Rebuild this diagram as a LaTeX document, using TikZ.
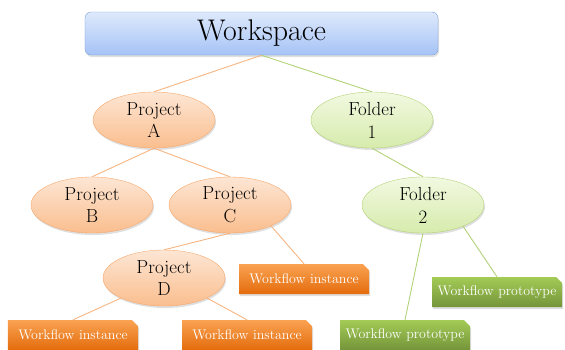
\documentclass[tikz,border=0pt]{standalone}
\usetikzlibrary{shapes.geometric, shapes.misc, shadows}
\definecolor{WsTop}{RGB}{222,233,252}
\definecolor{WsBottom}{RGB}{165,195,246}
\definecolor{WsLine}{RGB}{125,160,215}
\definecolor{ProjTop}{RGB}{253,230,212}
\definecolor{ProjBottom}{RGB}{250,190,142}
\definecolor{ProjLine}{RGB}{246,168,108}
\definecolor{FoldTop}{RGB}{242,249,225}
\definecolor{FoldBottom}{RGB}{214,235,172}
\definecolor{FoldLine}{RGB}{178,210,120}
\definecolor{InstTop}{RGB}{249,162,82}
\definecolor{InstBottom}{RGB}{228,108,12}
\definecolor{ProtoTop}{RGB}{163,203,86}
\definecolor{ProtoBottom}{RGB}{117,148,58}

\tikzset{
  softshadow/.style={drop shadow={opacity=0.25, shadow xshift=1bp, shadow yshift=-2bp}},
  wsbox/.style={rectangle, rounded corners=6bp, draw=WsLine, top color=WsTop, bottom color=WsBottom,
    minimum width=353bp, minimum height=43bp, inner sep=0pt, font=\fontsize{30}{32}\selectfont, softshadow},
  projnode/.style={ellipse, draw=ProjLine, top color=ProjTop, bottom color=ProjBottom,
    minimum width=122bp, minimum height=56bp, inner sep=0pt, align=center,
    font=\fontsize{19}{23}\selectfont, softshadow},
  foldnode/.style={projnode, draw=FoldLine, top color=FoldTop, bottom color=FoldBottom},
  instbox/.style={chamfered rectangle, chamfered rectangle corners=north east, chamfered rectangle xsep=3bp,
    chamfered rectangle ysep=3bp, top color=InstTop, bottom color=InstBottom, text=white,
    minimum width=130bp, minimum height=30bp, inner sep=0pt, font=\fontsize{14}{16}\selectfont, softshadow},
  protobox/.style={instbox, top color=ProtoTop, bottom color=ProtoBottom},
  projlink/.style={draw=ProjLine!85, line width=0.9bp},
  foldlink/.style={draw=FoldLine, line width=0.9bp}
}

\begin{document}
\begin{tikzpicture}[x=1bp, y=-1bp]
  \useasboundingbox (0,0) rectangle (565,349);

  % top level
  \node[wsbox] (ws) at (261.5,33.5) {Workspace};

  % projects
  \node[projnode] (pa) at (154,120) {Project\\A};
  \node[projnode] (pb) at (92,205) {Project\\B};
  \node[projnode] (pc) at (230,205) {Project\\C};
  \node[projnode] (pd) at (164,278) {Project\\D};

  % folders
  \node[foldnode] (fa) at (372,120) {Folder\\1};
  \node[foldnode] (fb) at (423,205) {Folder\\2};

  % workflows
  \node[instbox] (wic) at (304,279) {Workflow instance};
  \node[instbox] (wid) at (73,335) {Workflow instance};
  \node[instbox] (wie) at (247,335) {Workflow instance};
  \node[protobox] (wpa) at (497,292) {Workflow prototype};
  \node[protobox] (wpb) at (405,335) {Workflow prototype};

  % links
  \draw[projlink] (ws.south) -- (pa.north);
  \draw[foldlink] (ws.south) -- (fa.north);
  \draw[projlink] (pa.south) -- (pb.north);
  \draw[projlink] (pa.south) -- (pc.north);
  \draw[projlink] (pc.south) -- (pd.north);
  \draw[projlink] (pc.-27) -- (wic.north);
  \draw[projlink] (pd.-155) -- (wid.north);
  \draw[projlink] (pd.-25) -- (wie.north);
  \draw[foldlink] (fa.south) -- (fb.north);
  \draw[foldlink] (fb.south) -- (wpb.north);
  \draw[foldlink] (fb.-28) -- (wpa.north);
\end{tikzpicture}
\end{document}
